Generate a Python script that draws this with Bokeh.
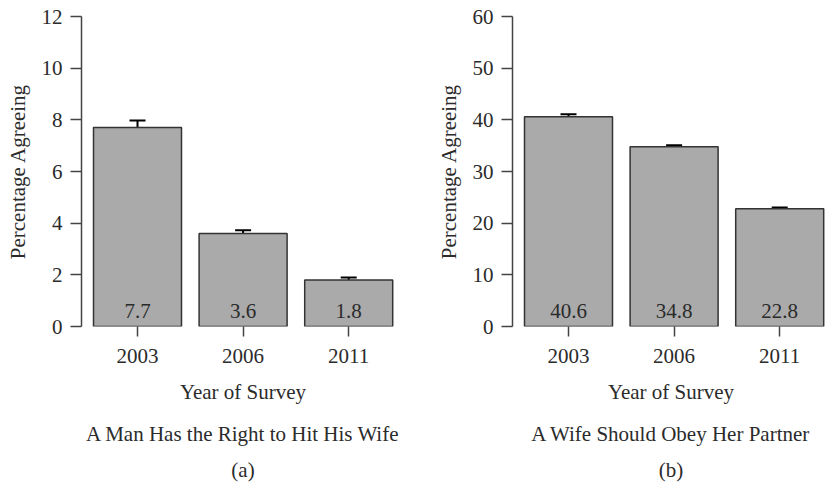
from bokeh.plotting import figure
from bokeh.models import Range1d, Whisker, ColumnDataSource, Title, FixedTicker, TeeHead
from bokeh.layouts import row
from bokeh.embed import file_html
from bokeh.resources import INLINE
from bokeh.core.properties import value

# ---- data ----
years = ["2003", "2006", "2011"]
hit_values = [7.7, 3.6, 1.8]
hit_err = [0.27, 0.13, 0.10]
hit_ticks = [0, 2, 4, 6, 8, 10, 12]
obey_values = [40.6, 34.8, 22.8]
obey_err = [0.5, 0.3, 0.25]
obey_ticks = [0, 10, 20, 30, 40, 50, 60]

FONT = "Liberation Serif"
TEXT = "#2b2b2b"
FS = "21px"
PX_PER_UNIT = 105.6          # one bar slot (bar + gap)
BAR_W = 1 / 1.2              # R barplot: width 1, space 0.2
AXIS_GAP = 12                # px between y axis and first bar
FRAME_H = 310


def panel(values, errs, yticks, caption, letter, frame_w, border_left, border_right):
    n = len(values)
    xs = list(range(1, n + 1))
    x0 = xs[0] - BAR_W / 2 - AXIS_GAP / PX_PER_UNIT
    x1 = x0 + frame_w / PX_PER_UNIT
    p = figure(frame_width=frame_w, frame_height=FRAME_H,
               x_range=Range1d(x0, x1), y_range=Range1d(yticks[0], yticks[-1]),
               output_backend="svg", toolbar_location=None,
               min_border_left=border_left, min_border_right=border_right,
               min_border_top=16, min_border_bottom=158)
    p.outline_line_color = None
    p.grid.visible = False
    p.background_fill_color = "white"
    p.border_fill_color = "white"

    src = ColumnDataSource(dict(
        x=xs, top=values, label=[f"{v:.1f}" for v in values],
        upper=[v + e for v, e in zip(values, errs)],
        lower=[v - e for v, e in zip(values, errs)],
        zero=[0] * n))
    p.vbar(x="x", top="top", bottom=0, width=BAR_W, source=src,
           fill_color="#aaaaaa", line_color="#333333", line_width=1.5)
    p.text(x="x", y="zero", text="label", source=src, text_align="center",
           text_baseline="middle", y_offset=-16, text_font=value(FONT),
           text_font_size=FS, text_color=TEXT)
    w = Whisker(base="x", upper="upper", lower="lower", source=src,
                line_color="black", line_width=2,
                upper_head=TeeHead(size=16, line_color="black", line_width=2),
                lower_head=TeeHead(size=16, line_color="black", line_width=2))
    p.add_layout(w)

    # y axis
    ya = p.yaxis[0]
    ya.ticker = FixedTicker(ticks=yticks)
    ya.minor_tick_line_color = None
    ya.major_tick_in = 0
    ya.major_tick_out = 11
    ya.major_label_standoff = 8
    ya.axis_line_color = "#444444"
    ya.axis_line_width = 1.5
    ya.major_tick_line_color = "#444444"
    ya.major_tick_line_width = 1.5
    ya.major_label_text_font = FONT
    ya.major_label_text_font_size = FS
    ya.major_label_text_color = TEXT
    ya.axis_label = "Percentage Agreeing"
    ya.axis_label_text_font = FONT
    ya.axis_label_text_font_size = FS
    ya.axis_label_text_font_style = "normal"
    ya.axis_label_text_color = TEXT
    ya.axis_label_standoff = 9

    # x axis
    xa = p.xaxis[0]
    xa.ticker = FixedTicker(ticks=xs)
    xa.major_label_overrides = {x: y for x, y in zip(xs, years)}
    xa.minor_tick_line_color = None
    xa.axis_line_color = None
    xa.major_tick_in = 0
    xa.major_tick_out = 10
    xa.major_label_standoff = 12
    xa.major_tick_line_color = "#444444"
    xa.major_tick_line_width = 1.5
    xa.major_label_text_font = FONT
    xa.major_label_text_font_size = FS
    xa.major_label_text_color = TEXT

    for txt, so in (("Year of Survey", 25), (caption, 7), (letter, 13)):
        p.add_layout(Title(text=txt, align="center", vertical_align="bottom",
                           text_font=FONT, text_font_size=FS,
                           text_font_style="normal", text_color=TEXT,
                           standoff=so), "below")
    return p


left = panel(hit_values, hit_err, hit_ticks,
             "A Man Has the Right to Hit His Wife", "(a)",
             frame_w=323, border_left=81, border_right=27)
right = panel(obey_values, obey_err, obey_ticks,
              "A Wife Should Obey Her Partner", "(b)",
              frame_w=317, border_left=81, border_right=0)

layout = row(left, right)
open("out.html", "w").write(file_html(layout, INLINE))
